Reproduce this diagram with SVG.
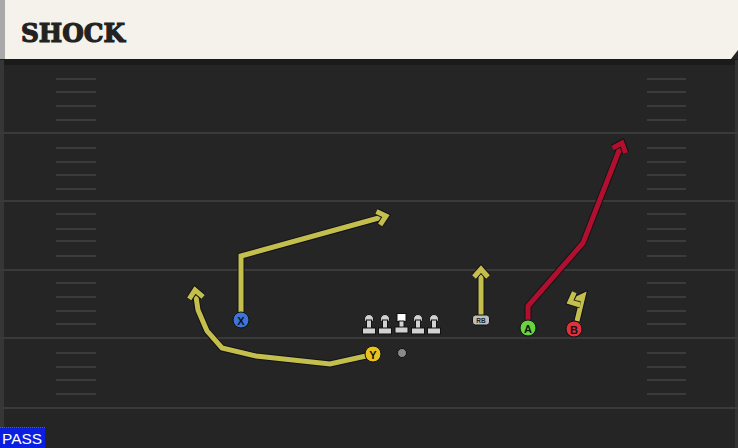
<svg xmlns="http://www.w3.org/2000/svg" width="738" height="448" viewBox="0 0 738 448">
<defs>
<style>
.yl{stroke:#3a3a3a;stroke-width:2}
.hm{stroke:#3b3b3b;stroke-width:2}
.rt-o{fill:none;stroke:#12121a;stroke-width:7;stroke-linejoin:miter;stroke-linecap:butt}
.rt-y{fill:none;stroke:#c4bf4c;stroke-width:5;stroke-linejoin:miter}
.rt-r{fill:none;stroke:#b0102e;stroke-width:5;stroke-linejoin:miter}
.pl{stroke:#111;stroke-width:1}
.lbl{font-family:"Liberation Sans",Arial,sans-serif;font-weight:bold;font-size:11px;fill:#111;text-anchor:middle}
.ol{fill:#d2d2d2;stroke:#111;stroke-width:1}
</style>
<marker id="ahY" markerUnits="userSpaceOnUse" markerWidth="24" markerHeight="24" refX="0" refY="0" viewBox="-12 -12 24 24" orient="auto" overflow="visible">
<path d="M-8,-7 L0,0 L-8,7" fill="none" stroke="#12121a" stroke-width="7"/>
<path d="M-8,-7 L0,0 L-8,7" fill="none" stroke="#c4bf4c" stroke-width="5"/>
</marker>
<marker id="ahR" markerUnits="userSpaceOnUse" markerWidth="24" markerHeight="24" refX="0" refY="0" viewBox="-12 -12 24 24" orient="auto" overflow="visible">
<path d="M-8,-7 L0,0 L-8,7" fill="none" stroke="#12121a" stroke-width="7"/>
<path d="M-8,-7 L0,0 L-8,7" fill="none" stroke="#b0102e" stroke-width="5"/>
</marker>
</defs>
<rect x="0" y="0" width="738" height="448" fill="#252525"/>
<rect x="0" y="59" width="738" height="6" fill="#1b1b1b"/>
<rect x="0" y="60" width="4" height="388" fill="#363636"/>
<rect x="735" y="60" width="3" height="388" fill="#333"/>
<g id="field">
<line class="yl" x1="0" y1="133" x2="738" y2="133"/>
<line class="yl" x1="0" y1="201" x2="738" y2="201"/>
<line class="yl" x1="0" y1="270" x2="738" y2="270"/>
<line class="yl" x1="0" y1="338" x2="738" y2="338"/>
<line class="yl" x1="0" y1="408" x2="738" y2="408"/>
<g id="hashes">
<path class="hm" d="M56,79H96M56,92H96M56,106H96M56,120H96M56,148H96M56,162H96M56,175H96M56,189H96M56,214H96M56,229H96M56,241H96M56,256H96M56,283H96M56,297H96M56,311H96M56,324H96M56,353H96M56,367H96M56,380H96M56,394H96"/>
<path class="hm" d="M647,79H686M647,92H686M647,106H686M647,120H686M647,148H686M647,162H686M647,175H686M647,189H686M647,214H686M647,229H686M647,241H686M647,256H686M647,283H686M647,297H686M647,311H686M647,324H686M647,353H686M647,367H686M647,380H686M647,394H686"/>
</g>
</g>
<g id="header">
<path d="M5,0 H738 V50 L731,59 H5 Z" fill="#f5f2eb"/>
<rect x="0" y="0" width="5" height="59" fill="#a9a9a9"/>
<text x="21" y="42" font-family="'DejaVu Serif',serif" font-weight="bold" font-size="26" fill="#222" stroke="#222" stroke-width="1.2" textLength="104" lengthAdjust="spacingAndGlyphs">SHOCK</text>
</g>
<g id="connectors">
<path class="rt-o" d="M241,316 V256 L383,217"/>
<path class="rt-y" d="M241,316 V256 L386,216" marker-end="url(#ahY)"/>
<path class="rt-o" d="M366,356 L330,364 L256,356 L222,348 L207,331 L198,310 L195,293"/>
<path class="rt-y" d="M366,356 L330,364 L256,356 L222,348 L207,331 L198,310 L195,290" marker-end="url(#ahY)"/>
<path class="rt-o" d="M481,316 V272"/>
<path class="rt-y" d="M481,316 V269" marker-end="url(#ahY)"/>
<path class="rt-o" d="M528,322 V306 L583,243 L621,146"/>
<path class="rt-r" d="M528,322 V306 L583,243 L622,143" marker-end="url(#ahR)"/>
<path class="rt-o" d="M577,321 L583,296 L572,301"/>
<path class="rt-y" d="M577,321 L583,296 L570,302" marker-end="url(#ahY)"/>
</g>
<g id="linemen">
<g id="lt"><circle class="ol" cx="369" cy="319" r="4.5"/><rect class="ol" x="366.5" y="320" width="5" height="9"/><rect class="ol" x="362.5" y="328" width="13" height="6"/></g>
<g id="lg"><circle class="ol" cx="385" cy="319" r="4.5"/><rect class="ol" x="382.5" y="320" width="5" height="9"/><rect class="ol" x="378.5" y="328" width="13" height="6"/></g>
<g id="c"><rect x="397" y="313.5" width="9" height="8" fill="#fff" stroke="#111" stroke-width="1"/><rect class="ol" x="399" y="321" width="5" height="7"/><rect class="ol" x="395" y="327" width="13" height="6"/></g>
<g id="rg"><circle class="ol" cx="418" cy="319" r="4.5"/><rect class="ol" x="415.5" y="320" width="5" height="9"/><rect class="ol" x="411.5" y="328" width="13" height="6"/></g>
<g id="rt"><circle class="ol" cx="434" cy="319" r="4.5"/><rect class="ol" x="431.5" y="320" width="5" height="9"/><rect class="ol" x="427.5" y="328" width="13" height="6"/></g>
</g>
<g id="qb"><circle cx="402" cy="353" r="4.5" fill="#8a8a8a" stroke="#111" stroke-width="1"/></g>
<g id="rb"><rect x="472.5" y="315" width="17" height="10" rx="3" fill="#bdbdbd" stroke="#111" stroke-width="1"/><text x="481" y="323" font-family="'Liberation Sans',sans-serif" font-weight="bold" font-size="6.5" fill="#222" text-anchor="middle">RB</text></g>
<g id="x"><circle class="pl" cx="241" cy="320" r="8" fill="#3e73d8"/><text class="lbl" x="241" y="324.5">X</text></g>
<g id="y"><circle class="pl" cx="373" cy="354" r="8" fill="#e8c21e"/><text class="lbl" x="373" y="358.5">Y</text></g>
<g id="a"><circle class="pl" cx="528" cy="328" r="8" fill="#66d43e"/><text class="lbl" x="528" y="332.5">A</text></g>
<g id="b"><circle class="pl" cx="574" cy="329" r="8" fill="#e2303e"/><text class="lbl" x="574" y="333.5">B</text></g>
<g id="pass">
<rect x="0" y="428" width="45" height="20" fill="#0b1fe0"/>
<line x1="0" y1="427.5" x2="45" y2="427.5" stroke="#666" stroke-width="1" stroke-dasharray="1,1"/>
<text x="2" y="444" font-family="'Liberation Sans',Arial,sans-serif" font-size="15" fill="#fff" textLength="40" lengthAdjust="spacingAndGlyphs">PASS</text>
</g>
</svg>
